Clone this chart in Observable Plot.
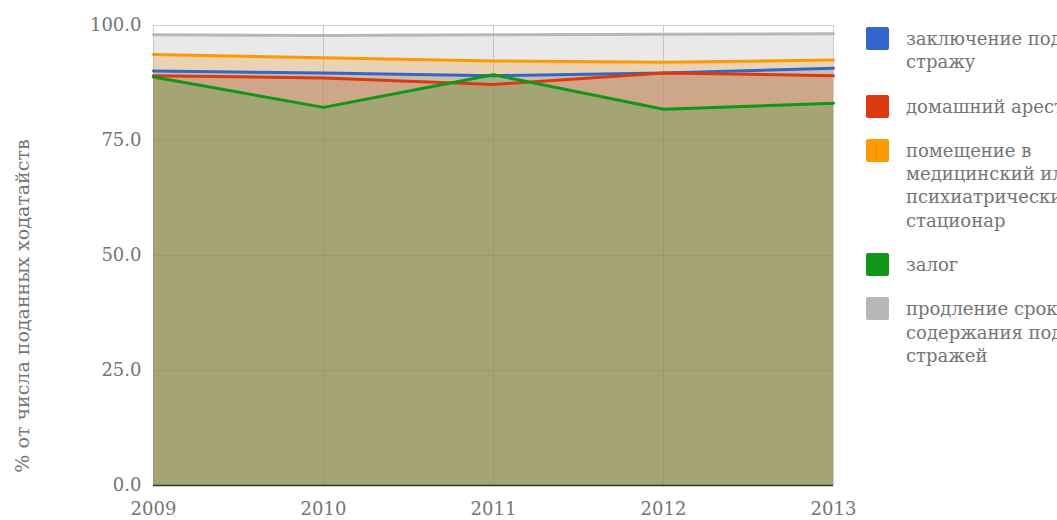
<!DOCTYPE html>
<html>
<head>
<meta charset="utf-8">
<script src="https://cdn.jsdelivr.net/npm/d3@7"></script>
<script src="https://cdn.jsdelivr.net/npm/@observablehq/plot@0.6"></script>
<style>
  html, body { margin: 0; padding: 0; background: #fff; overflow: hidden; width: 1057px; height: 520px; }
  #wrap { position: relative; width: 1057px; height: 520px; font-family: "DejaVu Serif", serif; }
  #legend { position: absolute; left: 866px; top: 27px; color: #757575; font-size: 18px; line-height: 23.3px; white-space: nowrap; }
  .item { display: flex; align-items: flex-start; margin-bottom: 21px; }
  .sw { width: 23px; height: 23px; border-radius: 2px; margin-right: 17px; flex: none; }
  #ytitle { position: absolute; left: 22px; top: 306px; transform: translate(-50%, -50%) rotate(-90deg); color: #757575; font-size: 19px; white-space: nowrap; }
</style>
</head>
<body>
<div id="wrap">
  <div id="chart"></div>
  <div id="legend"></div>
  <div id="ytitle">% от числа поданных ходатайств</div>
</div>
<script>
const years = [2009, 2010, 2011, 2012, 2013];
const seriesNames = [
  "заключение под стражу",
  "домашний арест",
  "помещение в медицинский или психиатрический стационар",
  "залог",
  "продление срока содержания под стражей"
];
const legendLines = [
  ["заключение под", "стражу"],
  ["домашний арест"],
  ["помещение в", "медицинский или", "психиатрический", "стационар"],
  ["залог"],
  ["продление срока", "содержания под", "стражей"]
];
const colors = ["#3366cc", "#dc3912", "#ff9900", "#109618", "#b7b7b7"];
const zakluchenie = [90.1, 89.7, 89.1, 89.7, 90.7];
const domashniy = [89.1, 88.6, 87.2, 89.7, 89.1];
const pomeshenie = [93.7, 93.0, 92.3, 92.0, 92.5];
const zalog = [88.8, 82.2, 89.3, 81.8, 83.1];
const prodlenie = [98.0, 97.8, 98.0, 98.1, 98.2];
const yTicks = [0, 25, 50, 75, 100];

const seriesValues = [zakluchenie, domashniy, pomeshenie, zalog, prodlenie];
const tables = seriesValues.map((vals, i) => years.map((yr, j) => ({year: yr, value: vals[j], series: seriesNames[i]})));

const marks = [
  Plot.gridY(yTicks, {stroke: "#cccccc", strokeOpacity: 1}),
  Plot.gridX(years, {stroke: "#cccccc", strokeOpacity: 1}),
];
tables.forEach((t, i) => marks.push(Plot.areaY(t, {x: "year", y: "value", fill: colors[i], fillOpacity: 0.3})));
tables.forEach((t, i) => marks.push(Plot.lineY(t, {x: "year", y: "value", stroke: colors[i], strokeWidth: 3})));
marks.push(Plot.ruleY([0], {stroke: "#333333", strokeWidth: 1.5}));
marks.push(Plot.axisY(yTicks, {tickSize: 0, tickPadding: 12, tickFormat: d3.format(".1f"), fontSize: 18, fill: "#757575", label: null}));
marks.push(Plot.axisX(years, {tickSize: 0, tickPadding: 17, tickFormat: d3.format("d"), fontSize: 18, fill: "#757575", label: null}));

const chart = Plot.plot({
  width: 1057,
  height: 520,
  marginLeft: 153,
  marginRight: 224,
  marginTop: 25,
  marginBottom: 35,
  style: {fontFamily: "'DejaVu Serif', serif", background: "transparent", overflow: "visible"},
  x: {type: "linear", domain: [2009, 2013]},
  y: {domain: [0, 100]},
  marks
});
document.getElementById("chart").appendChild(chart);

const legend = document.getElementById("legend");
legendLines.forEach((lines, i) => {
  const item = document.createElement("div");
  item.className = "item";
  const sw = document.createElement("div");
  sw.className = "sw";
  sw.style.background = colors[i];
  const tx = document.createElement("div");
  tx.innerHTML = lines.join("<br>");
  item.appendChild(sw);
  item.appendChild(tx);
  legend.appendChild(item);
});
</script>
</body>
</html>
